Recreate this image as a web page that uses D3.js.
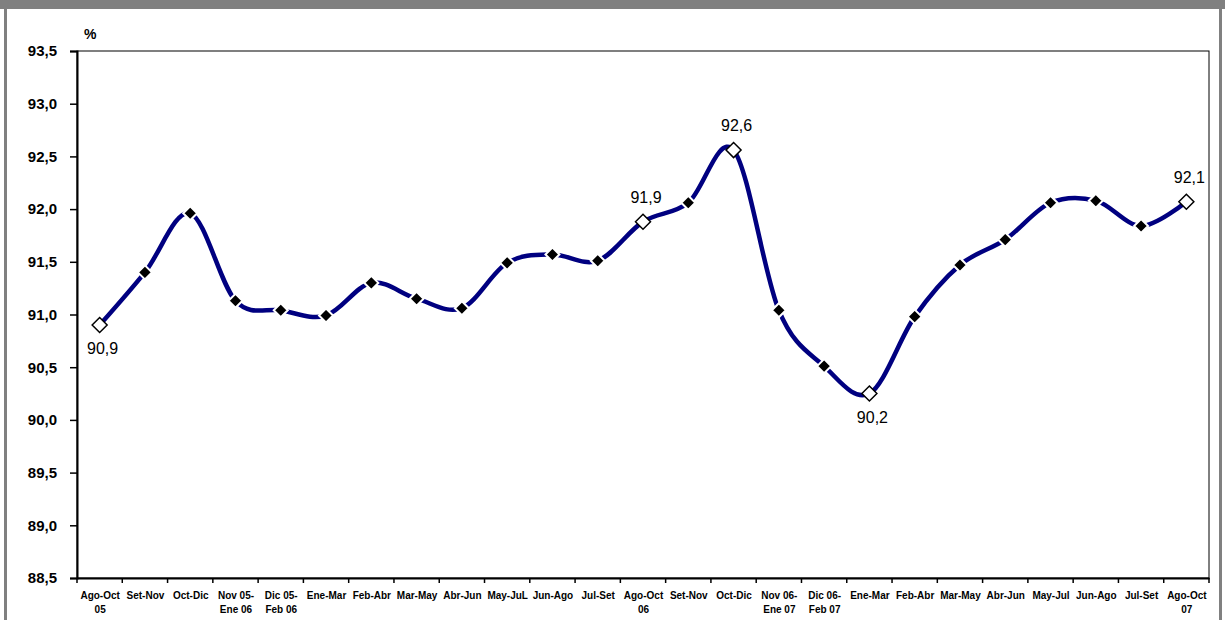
<!DOCTYPE html>
<html>
<head>
<meta charset="utf-8">
<script src="https://cdn.jsdelivr.net/npm/d3@7"></script>
<style>
body { margin: 0; background: #fff; }
text { font-family: "Liberation Sans", Arial, sans-serif; }
</style>
</head>
<body>
<div id="chart-area"></div>
<script>
// periodos moviles trimestrales
var periods = [
    ["Ago-Oct", "05"], ["Set-Nov"], ["Oct-Dic"], ["Nov 05-", "Ene 06"], ["Dic 05-", "Feb 06"],
    ["Ene-Mar"], ["Feb-Abr"], ["Mar-May"], ["Abr-Jun"], ["May-JuL"], ["Jun-Ago"], ["Jul-Set"],
    ["Ago-Oct", "06"], ["Set-Nov"], ["Oct-Dic"], ["Nov 06-", "Ene 07"], ["Dic 06-", "Feb 07"],
    ["Ene-Mar"], ["Feb-Abr"], ["Mar-May"], ["Abr-Jun"], ["May-Jul"], ["Jun-Ago"], ["Jul-Set"],
    ["Ago-Oct", "07"]
];
var values = [90.90, 91.40, 91.96, 91.13, 91.04, 90.99, 91.30, 91.15, 91.06, 91.49, 91.57, 91.51,
    91.88, 92.06, 92.56, 91.04, 90.51, 90.25, 90.98, 91.47, 91.71, 92.06, 92.08, 91.84, 92.07];
var yTicks = [88.5, 89.0, 89.5, 90.0, 90.5, 91.0, 91.5, 92.0, 92.5, 93.0, 93.5];
// puntos con etiqueta: indice, texto, arriba/abajo
var labelIdx = [0, 12, 14, 17, 24];
var labelText = ["90,9", "91,9", "92,6", "90,2", "92,1"];
var labelBelow = [true, false, false, true, false];

var width = 1225, height = 620;
var margin = {top: 51, right: 16, bottom: 42, left: 77};
var w = width - margin.left - margin.right;
var h = height - margin.top - margin.bottom;

var svg = d3.select("#chart-area").append("svg")
    .attr("width", width)
    .attr("height", height);

// marco gris
svg.append("rect").attr("x", 0).attr("y", 0).attr("width", width).attr("height", 9).attr("fill", "#808080");
svg.append("rect").attr("x", 4).attr("y", 9).attr("width", 3).attr("height", height - 9).attr("fill", "#808080");
svg.append("rect").attr("x", 1219).attr("y", 9).attr("width", 3).attr("height", height - 9).attr("fill", "#808080");

var g = svg.append("g")
    .attr("transform", "translate(" + margin.left + "," + margin.top + ")");

var x = d3.scaleBand()
    .domain(d3.range(periods.length))
    .range([0, w])
    .padding(0);

var y = d3.scaleLinear()
    .domain([88.5, 93.5])
    .range([h, 0]);

var fmt = function(d) { return d3.format(".1f")(d).replace(".", ","); };

// borde del area
g.append("rect")
    .attr("width", w).attr("height", h)
    .attr("fill", "none").attr("stroke", "#000").attr("stroke-width", 1);

var leftAxis = d3.axisLeft(y).tickValues(yTicks).tickFormat(fmt).tickSize(7).tickPadding(13);
var ya = g.append("g").attr("class", "left axis").call(leftAxis);
ya.select(".domain").attr("stroke-width", 2);
ya.selectAll(".tick line").attr("stroke-width", 1.5);
ya.selectAll("text")
    .attr("font-size", "15px").attr("font-weight", "bold").attr("fill", "#000")
    .attr("font-family", "'Liberation Sans', Arial, sans-serif");

var bottomAxis = d3.axisBottom(x).tickSize(0).tickFormat("");
var xa = g.append("g").attr("class", "bottom axis")
    .attr("transform", "translate(0," + h + ")")
    .call(bottomAxis);
xa.select(".domain").attr("stroke-width", 2);

xa.selectAll(".tick").each(function(d) {
    var t = d3.select(this).append("text")
        .attr("fill", "#000")
        .attr("font-size", "10px")
        .attr("font-weight", "bold")
        .attr("font-family", "'Liberation Sans', Arial, sans-serif")
        .attr("text-anchor", "middle")
        .attr("y", 21);
    periods[d].forEach(function(line, i) {
        t.append("tspan").attr("x", 0.5).attr("dy", i === 0 ? 0 : 14).text(line);
    });
});

// marcas entre categorias
xa.selectAll(".sep")
    .data(d3.range(periods.length + 1))
    .enter().append("line")
    .attr("x1", function(i) { return i * x.step(); })
    .attr("x2", function(i) { return i * x.step(); })
    .attr("y1", 0).attr("y2", 5)
    .attr("stroke", "#000").attr("stroke-width", 1.5);

g.append("text")
    .attr("x", 7).attr("y", -12)
    .attr("font-size", "14px").attr("font-weight", "bold")
    .text("%");

var cx = function(d, i) { return x(i) + x.bandwidth() / 2; };

var line = d3.line()
    .x(cx)
    .y(function(d) { return y(d); })
    .curve(d3.curveCardinal.tension(0));

g.append("path")
    .datum(values)
    .attr("fill", "none")
    .attr("stroke", "#000080")
    .attr("stroke-width", 4.5)
    .attr("d", line);

var diamond = function(r) {
    return "M0," + (-r) + "L" + r + ",0L0," + r + "L" + (-r) + ",0Z";
};

g.selectAll(".marker")
    .data(values)
    .enter().append("path")
    .attr("class", "marker")
    .attr("transform", function(d, i) { return "translate(" + cx(d, i) + "," + y(d) + ")"; })
    .attr("d", function(d, i) { return labelIdx.indexOf(i) >= 0 ? diamond(7.5) : diamond(7); })
    .attr("fill", function(d, i) { return labelIdx.indexOf(i) >= 0 ? "#fff" : "#000"; })
    .attr("stroke", function(d, i) { return labelIdx.indexOf(i) >= 0 ? "#000" : "#fff"; })
    .attr("stroke-width", function(d, i) { return labelIdx.indexOf(i) >= 0 ? 1.5 : 2; });

g.selectAll(".dlabel")
    .data(labelIdx)
    .enter().append("text")
    .attr("class", "dlabel")
    .attr("x", function(k) { return cx(values[k], k) + 3; })
    .attr("y", function(k, j) { return y(values[k]) + (labelBelow[j] ? 29 : -19); })
    .attr("text-anchor", "middle")
    .attr("font-size", "16px")
    .attr("fill", "#000")
    .text(function(k, j) { return labelText[j]; });
</script>
</body>
</html>
